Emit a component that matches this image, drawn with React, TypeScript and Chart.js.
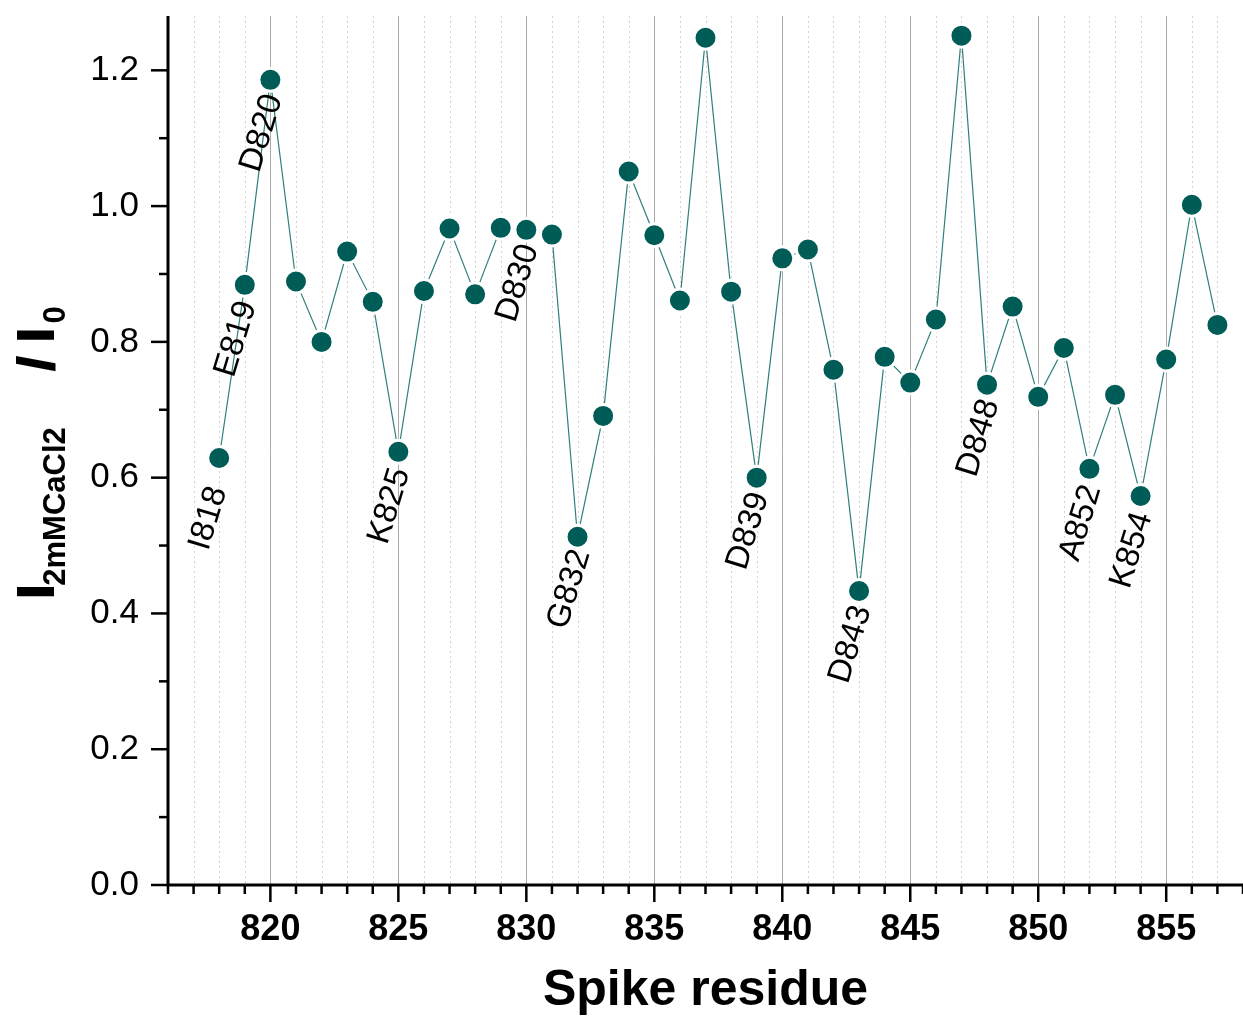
import React, { useEffect, useRef } from 'react';
import { Chart, registerables } from 'chart.js';

Chart.register(...registerables);

// ---- data ----
const residues = [
  818, 819, 820, 821, 822, 823, 824, 825, 826, 827,
  828, 829, 830, 831, 832, 833, 834, 835, 836, 837,
  838, 839, 840, 841, 842, 843, 844, 845, 846, 847,
  848, 849, 850, 851, 852, 853, 854, 855, 856, 857,
];
const intensityRatio = [
  0.629, 0.884, 1.186, 0.889, 0.800, 0.933, 0.859, 0.638, 0.875, 0.967,
  0.870, 0.968, 0.965, 0.958, 0.513, 0.691, 1.051, 0.957, 0.861, 1.248,
  0.874, 0.600, 0.923, 0.936, 0.759, 0.433, 0.778, 0.740, 0.833, 1.251,
  0.737, 0.852, 0.719, 0.791, 0.613, 0.722, 0.573, 0.774, 1.002, 0.825,
];
const labeledResidues = [818, 819, 820, 825, 830, 832, 839, 843, 848, 852, 854];
const labeledNames = ['I818', 'E819', 'D820', 'K825', 'D830', 'G832', 'D839', 'D843', 'D848', 'A852', 'K854'];
const xMajorTicks = [820, 825, 830, 835, 840, 845, 850, 855];
const yMajorTicks = [0, 0.2, 0.4, 0.6, 0.8, 1.0, 1.2];
const xTitle = 'Spike residue';

const FONT = '"Liberation Sans", Arial, Helvetica, sans-serif';
const MARKER = '#005c57';
const LINE = '#2f7f7a';

const overlayPlugin = {
  id: 'overlay',
  beforeDatasetsDraw(chart: any) {
    const { ctx, chartArea, scales } = chart;
    const xs = scales.x;
    ctx.save();
    for (let v = 817; v <= 858; v++) {
      const px = Math.round(xs.getPixelForValue(v)) + 0.5;
      ctx.beginPath();
      if (v % 5 === 0) {
        ctx.setLineDash([]);
        ctx.strokeStyle = '#a9a9a9';
        ctx.lineWidth = 1;
      } else {
        ctx.setLineDash([2, 3]);
        ctx.strokeStyle = '#d4d4d4';
        ctx.lineWidth = 1;
      }
      ctx.moveTo(px, chartArea.top);
      ctx.lineTo(px, chartArea.bottom);
      ctx.stroke();
    }
    ctx.restore();
  },
  afterDatasetsDraw(chart: any) {
    const { ctx, chartArea, scales } = chart;
    const xs = scales.x;
    const ys = scales.y;
    ctx.save();
    ctx.setLineDash([]);
    ctx.strokeStyle = '#000';
    ctx.lineWidth = 3;
    // axes
    ctx.beginPath();
    ctx.moveTo(chartArea.left, chartArea.top);
    ctx.lineTo(chartArea.left, chartArea.bottom);
    ctx.lineTo(chartArea.right + 2, chartArea.bottom);
    ctx.stroke();
    // x ticks
    ctx.lineWidth = 2.5;
    for (let v = 816; v <= 858; v++) {
      const px = xs.getPixelForValue(v);
      const len = xMajorTicks.includes(v) ? 17 : 9;
      ctx.beginPath();
      ctx.moveTo(px, chartArea.bottom);
      ctx.lineTo(px, chartArea.bottom + len);
      ctx.stroke();
    }
    // y ticks
    for (let i = 0; i <= 12; i++) {
      const v = i / 10;
      const py = ys.getPixelForValue(v);
      const len = i % 2 === 0 ? 17 : 9;
      ctx.beginPath();
      ctx.moveTo(chartArea.left, py);
      ctx.lineTo(chartArea.left - len, py);
      ctx.stroke();
    }
    // point labels
    ctx.fillStyle = '#000';
    ctx.font = `33px ${FONT}`;
    ctx.textAlign = 'left';
    ctx.textBaseline = 'middle';
    labeledResidues.forEach((r, i) => {
      const idx = residues.indexOf(r);
      const px = xs.getPixelForValue(r);
      const py = ys.getPixelForValue(intensityRatio[idx]);
      ctx.save();
      ctx.translate(px - 20, py + 91);
      ctx.rotate((-73 * Math.PI) / 180);
      ctx.fillText(labeledNames[i], 0, 0);
      ctx.restore();
    });
    // x title
    ctx.font = `bold 50px ${FONT}`;
    ctx.textAlign = 'center';
    ctx.textBaseline = 'alphabetic';
    ctx.fillText(xTitle, (chartArea.left + chartArea.right) / 2, 1005);
    // y title: I_{2mMCaCl2} / I_0
    const segs = [
      { t: 'I', f: `bold 50px ${FONT}`, cy: 591.5, bx: 53, stroke: true },
      { t: '2mMCaCl2', f: `bold 31px ${FONT}`, cy: 506.5, bx: 65, stroke: false },
      { t: '/', f: `bold 50px ${FONT}`, cy: 363.5, bx: 53, stroke: true },
      { t: 'I', f: `bold 50px ${FONT}`, cy: 335, bx: 53, stroke: true },
      { t: '0', f: `bold 31px ${FONT}`, cy: 315, bx: 65, stroke: false },
    ];
    segs.forEach((s) => {
      ctx.save();
      ctx.translate(s.bx, s.cy);
      ctx.rotate(-Math.PI / 2);
      ctx.font = s.f;
      ctx.textAlign = 'center';
      ctx.textBaseline = 'alphabetic';
      ctx.fillText(s.t, 0, 0);
      if (s.stroke) {
        ctx.lineWidth = 2;
        ctx.strokeStyle = '#000';
        ctx.strokeText(s.t, 0, 0);
      }
      ctx.restore();
    });
    ctx.restore();
  },
};

export default function App() {
  const ref = useRef<HTMLCanvasElement | null>(null);
  useEffect(() => {
    if (!ref.current) return;
    const points = residues.map((r, i) => ({ x: r, y: intensityRatio[i] }));
    const chart = new Chart(ref.current, {
      type: 'scatter',
      data: {
        datasets: [
          {
            data: points,
            showLine: true,
            borderColor: LINE,
            borderWidth: 1.2,
            pointRadius: 11.5,
            pointHoverRadius: 11.5,
            pointBackgroundColor: MARKER,
            pointBorderColor: '#ffffff',
            pointBorderWidth: 3,
            clip: false,
          },
        ],
      },
      options: {
        animation: false,
        responsive: false,
        devicePixelRatio: 1,
        layout: { autoPadding: false, padding: { top: 16, left: 0, right: 0, bottom: 0 } },
        plugins: { legend: { display: false }, tooltip: { enabled: false } },
        events: [],
        scales: {
          x: {
            type: 'linear',
            min: 816,
            max: 858,
            afterFit: (s: any) => {
              s.height = 134;
              s.paddingLeft = 0;
              s.paddingRight = 0;
            },
            grid: { display: false, drawTicks: false },
            border: { display: false },
            ticks: {
              stepSize: 1,
              autoSkip: false,
              maxRotation: 0,
              minRotation: 0,
              padding: 23,
              color: '#000',
              font: { family: FONT, size: 36, weight: 'bold' },
              callback: (v: any) => (xMajorTicks.includes(Number(v)) ? String(v) : ''),
            },
          },
          y: {
            type: 'linear',
            min: 0,
            max: 1.28,
            afterFit: (s: any) => {
              s.width = 168;
              s.paddingTop = 0;
              s.paddingBottom = 0;
            },
            grid: { display: false, drawTicks: false },
            border: { display: false },
            ticks: {
              stepSize: 0.1,
              autoSkip: false,
              padding: 29,
              color: '#000',
              font: { family: FONT, size: 35 },
              callback: (v: any) => {
                const n = Number(v);
                const m = yMajorTicks.find((t) => Math.abs(t - n) < 1e-6);
                return m === undefined ? '' : m.toFixed(1);
              },
            },
          },
        },
      },
      plugins: [overlayPlugin],
    } as any);
    return () => chart.destroy();
  }, []);
  return (
    <div style={{ position: 'fixed', left: 0, top: 0, width: 1243, height: 1019, background: '#fff' }}>
      <canvas ref={ref} width={1243} height={1019} style={{ display: 'block' }} />
    </div>
  );
}
